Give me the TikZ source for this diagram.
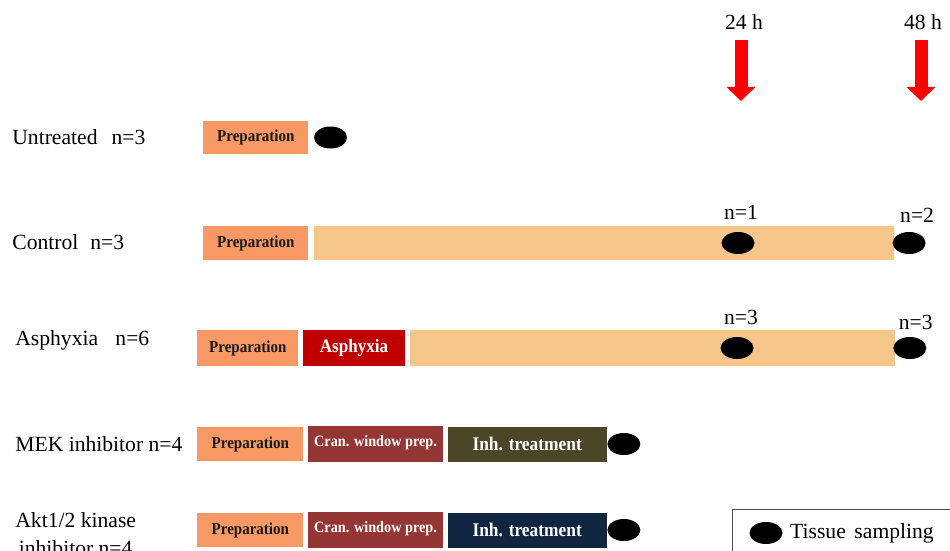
\documentclass[tikz,border=0pt]{standalone}
\usepackage{fontspec}
\setmainfont{Liberation Serif}
\newfontfamily\boxfont[FakeStretch=0.9]{Liberation Serif}
\usetikzlibrary{positioning, shapes.geometric, arrows.meta}
\definecolor{prepcol}{RGB}{248,152,100}
\definecolor{waitcol}{RGB}{245,197,137}
\definecolor{asphcol}{RGB}{192,0,0}
\definecolor{crancol}{RGB}{148,54,52}
\definecolor{mekcol}{RGB}{75,70,40}
\definecolor{aktcol}{RGB}{16,38,64}
\tikzset{
    group/.style={anchor=west, inner sep=0pt},
    stage/.style={rectangle, inner sep=0pt, minimum height=0.68cm, text=white},
    prep/.style={stage, fill=prepcol, text=black!90, minimum width=2.1cm, font={\boxfont\bfseries\fontsize{9.5pt}{11pt}\selectfont}},
    wait/.style={stage, fill=waitcol, minimum height=0.7cm},
    asph/.style={stage, fill=asphcol, minimum width=2.04cm, font={\boxfont\bfseries\fontsize{10.8pt}{12pt}\selectfont}},
    cran/.style={stage, fill=crancol, minimum width=2.7cm, minimum height=0.72cm, font={\boxfont\bfseries\fontsize{9pt}{11pt}\selectfont}},
    inh/.style={stage, minimum width=3.18cm, minimum height=0.7cm, font={\boxfont\bfseries\fontsize{11pt}{12pt}\selectfont}},
    sample/.style={ellipse, fill=black, inner sep=0pt, minimum width=0.66cm, minimum height=0.44cm},
    harrow/.style={red, line width=7.4pt, -{Triangle[width=16pt,length=8pt]}},
    legendbox/.style={draw=black!70, line width=0.6pt, rectangle, anchor=north west, minimum width=4.6cm, minimum height=1.5cm} }

\begin{document}
\begin{tikzpicture}[x=0.02cm, y=-0.02cm, node distance=0.08cm,
    font=\fontsize{12.3pt}{16pt}\selectfont]
    \useasboundingbox (0,0) rectangle (950,551);
    % ---- time points
    \node (h24) at (744,22) {24 h};
    \node (h48) at (923,22) {48 h};
    \coordinate (a24top) at (741,40);
    \coordinate (a24tip) at (741,101);
    \coordinate (a48top) at (921,40);
    \coordinate (a48tip) at (921,101);
    \draw[harrow] (a24top) -- (a24tip);
    \draw[harrow] (a48top) -- (a48tip);
    % ---- untreated
    \node[group] (untr) at (12,137) {Untreated\hspace{0.65em}n=3};
    \node[prep, anchor=west] (prep1) at (203,137.5) {Preparation};
    \node[sample, right = 0.1cm of prep1] (s1) {};
    % ---- control
    \node[group] (ctrl) at (12,242) {Control\hspace{0.55em}n=3};
    \node[prep, anchor=west, minimum height=0.7cm] (prep2) at (203,243) {Preparation};
    \node[wait, right = 0.1cm of prep2, minimum width=11.6cm] (wait2) {};
    \node[sample] (s2a) at (738,243) {};
    \node[sample, right = -0.04cm of wait2] (s2b) {};
    \node[above = 0.12cm of s2a, xshift=0.06cm] (n2a) {n=1};
    \node[above = 0.06cm of s2b, xshift=0.16cm] (n2b) {n=2};
    % ---- asphyxia
    \node[group] (asph) at (15,340) {Asphyxia\hspace{0.8em}n=6};
    \node[prep, anchor=west, minimum width=2.02cm, minimum height=0.72cm] (prep3) at (197,348) {Preparation};
    \node[asph, right = of prep3, minimum height=0.72cm] (asph3) {Asphyxia};
    \node[wait, right = of asph3, minimum width=9.7cm, minimum height=0.72cm] (wait3) {};
    \node[sample] (s3a) at (737,348) {};
    \node[sample, right = -0.04cm of wait3] (s3b) {};
    \node[above = 0.12cm of s3a, xshift=0.08cm] (n3a) {n=3};
    \node[above = 0.02cm of s3b, xshift=0.12cm] (n3b) {n=3};
    % ---- MEK inhibitor
    \node[group] (mek) at (15,444) {MEK inhibitor n=4};
    \node[prep, anchor=west, minimum width=2.12cm] (prep4) at (197,444) {Preparation};
    \node[cran, right = of prep4] (cran4) {\raisebox{3pt}{Cran. window prep.}};
    \node[inh, fill=mekcol, right = of cran4] (inh4) {Inh. treatment};
    \node[sample, right = 0cm of inh4] (s4) {};
    % ---- Akt1/2 kinase inhibitor
    \node[group, align=center] (akt) at (15,534) {Akt1/2 kinase\\ inhibitor n=4};
    \node[prep, anchor=west, minimum width=2.12cm] (prep5) at (197,530) {Preparation};
    \node[cran, right = of prep5] (cran5) {\raisebox{3pt}{Cran. window prep.}};
    \node[inh, fill=aktcol, right = of cran5] (inh5) {Inh. treatment};
    \node[sample, right = 0cm of inh5] (s5) {};
    % ---- legend
    \node[legendbox] (legend) at (732,509) {};
    \node[sample] (slegend) at (766,533) {};
    \node[right = 0.14cm of slegend, inner sep=0pt] (tlegend) {Tissue\hspace{0.4em}sampling};
\end{tikzpicture}
\end{document}
